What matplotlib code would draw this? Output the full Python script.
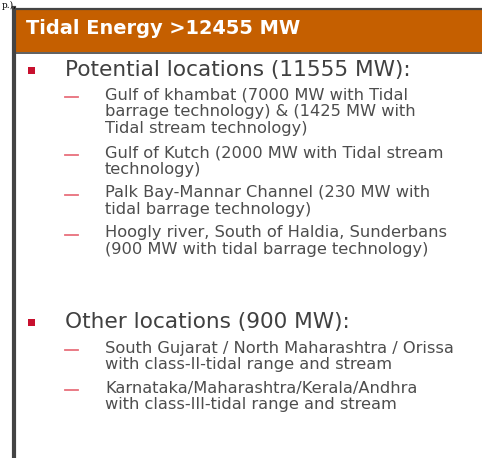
import matplotlib
matplotlib.use('Agg')
import matplotlib.pyplot as plt
from matplotlib.patches import Rectangle

# slide content
title = 'Tidal Energy >12455 MW'
headings = ['Potential locations (11555 MW):', 'Other locations (900 MW):']
items = [
    [['Gulf of khambat (7000 MW with Tidal',
      'barrage technology) & (1425 MW with',
      'Tidal stream technology)'],
     ['Gulf of Kutch (2000 MW with Tidal stream', 'technology)'],
     ['Palk Bay-Mannar Channel (230 MW with', 'tidal barrage technology)'],
     ['Hoogly river, South of Haldia, Sunderbans',
      '(900 MW with tidal barrage technology)']],
    [['South Gujarat / North Maharashtra / Orissa',
      'with class-II-tidal range and stream'],
     ['Karnataka/Maharashtra/Kerala/Andhra',
      'with class-III-tidal range and stream']],
]
heading_y = [70, 322]
item_y = [[95, 153, 193, 233], [348, 388]]
LINE_PITCH = 16.5

FONT = 'DejaVu Sans'
ORANGE = '#C55F00'
BORDER = '#444444'
TEXT = '#404040'
SUBTEXT = '#4d4d4d'
RED = '#C8102E'
PINK = '#E8707C'

fig = plt.figure(figsize=(4.82, 4.58), dpi=100)
ax = fig.add_axes([0, 0, 1, 1])
ax.set_xlim(0, 482)
ax.set_ylim(458, 0)
ax.axis('off')
renderer = fig.canvas.get_renderer()


def fitted_size(s, width, **kw):
    # font size that makes the text span the width seen on the slide
    probe = ax.text(0, 0, s, fontsize=10, **kw)
    w = probe.get_window_extent(renderer).width
    probe.remove()
    return 10 * width / w


# leftover text from the page above
ax.text(2, 0.5, 'p.),', fontsize=6.5, family='DejaVu Serif', color='black',
        va='top', ha='left')

# header bar and frame
ax.add_patch(Rectangle((13, 9), 470, 43, facecolor=ORANGE, edgecolor='none'))
ax.plot([13, 482], [9, 9], color=BORDER, lw=1.6)
ax.plot([13, 482], [52.5, 52.5], color=BORDER, lw=1.2)
ax.plot([13.5, 13.5], [8, 458], color=BORDER, lw=3)

title_size = fitted_size(title, 274, family=FONT, fontweight='bold')
ax.text(26, 29, title, fontsize=title_size, family=FONT, fontweight='bold',
        color='white', va='center', ha='left')

head_size = fitted_size(headings[0], 345, family=FONT)
item_size = fitted_size(items[0][1][0], 355, family=FONT) * 0.95

for h, hy, its, iys in zip(headings, heading_y, items, item_y):
    ax.add_patch(Rectangle((28, hy - 3), 6.5, 6.5, facecolor=RED, edgecolor='none'))
    ax.text(65, hy, h, fontsize=head_size, family=FONT, color=TEXT,
            va='center', ha='left')
    for lines, iy in zip(its, iys):
        ax.plot([65, 78], [iy + 2, iy + 2], color=PINK, lw=1.3)
        for i, ln in enumerate(lines):
            ax.text(105, iy + i * LINE_PITCH, ln, fontsize=item_size, family=FONT,
                    color=SUBTEXT, va='center', ha='left')

fig.savefig('out.png', dpi=100)
